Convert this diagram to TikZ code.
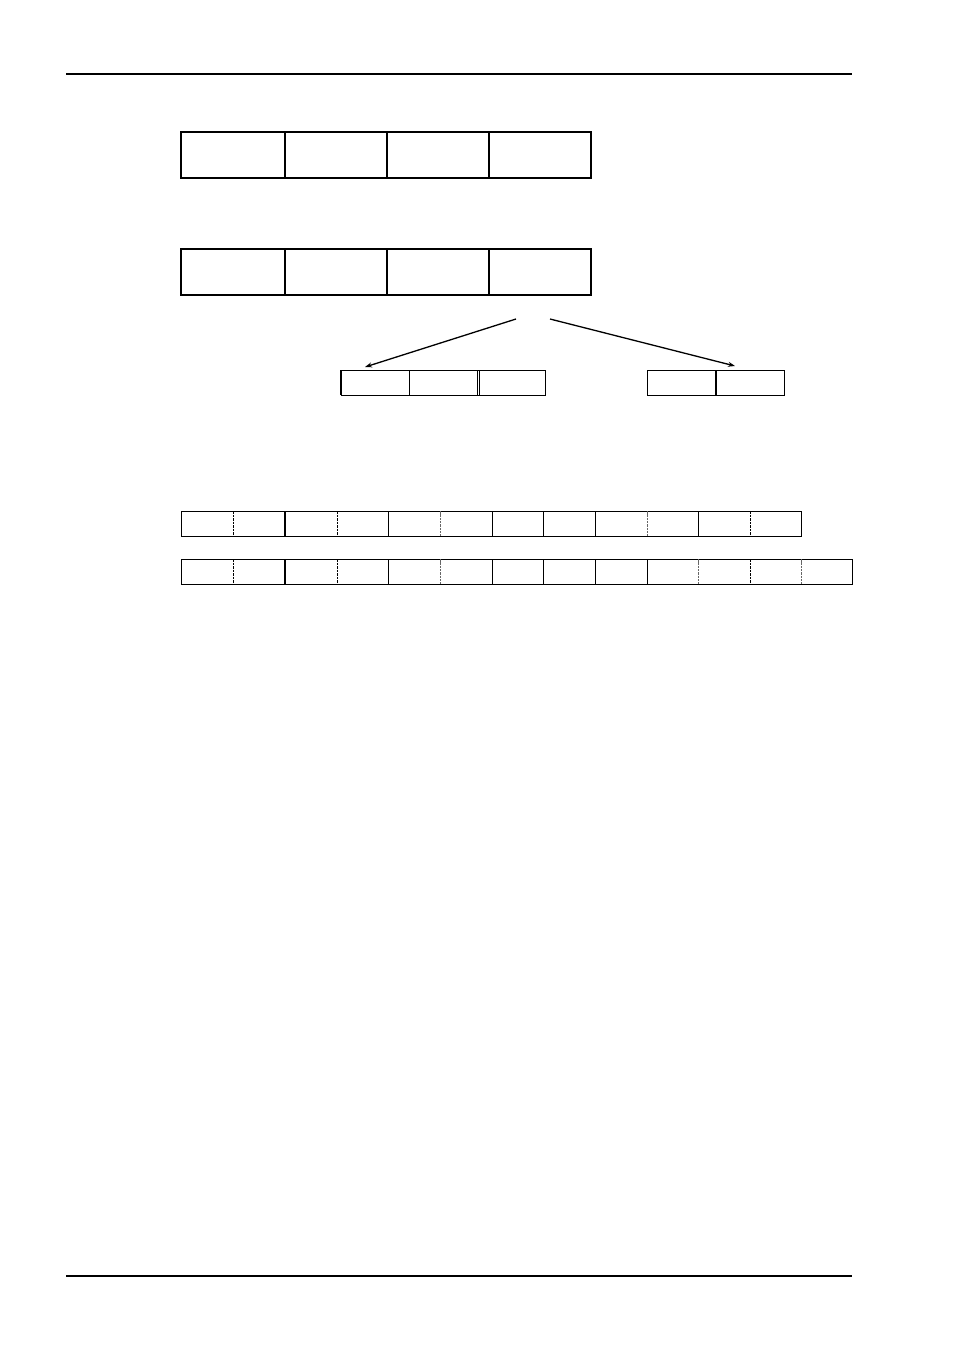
\documentclass[tikz,border=0pt]{standalone}
\usetikzlibrary{arrows.meta}
\begin{document}
\begin{tikzpicture}[x=1pt,y=-1pt,
  rule/.style={line width=2pt},
  box/.style={draw,line width=1pt,inner sep=0pt,outer sep=0pt,anchor=north west},
  div/.style={line width=1pt},
  ddiv/.style={line width=1pt,dash pattern=on 2.5pt off 1pt},
  gdiv/.style={line width=1pt,dash pattern=on 2.5pt off 0.8pt,black!60},
  arr/.style={line width=1.3pt,-{Stealth[length=7pt,width=5pt]}}]
\path[use as bounding box] (0,0) rectangle (955,1350);
% page rules
\coordinate (tl) at (66,74); \coordinate (tr) at (852,74);
\coordinate (bl) at (66,1276); \coordinate (br) at (852,1276);
\draw[rule] (tl) -- (tr);
\draw[rule] (bl) -- (br);
% row 1
\node[box,line width=1.2pt,minimum width=410pt,minimum height=46pt] (r1) at (181,132) {};
\foreach \x in {285,387,489} \draw[line width=1.2pt] (\x,132) -- (\x,178);
\draw[line width=2pt] (r1.south west) -- (r1.south east) -- (r1.north east);
% row 2
\node[box,line width=1.2pt,minimum width=410pt,minimum height=46pt] (r2) at (181,249) {};
\foreach \x in {285,387,489} \draw[line width=1.2pt] (\x,249) -- (\x,295);
\draw[line width=2pt] (r2.south east) -- (r2.north east);
% split arrows
\coordinate (s1) at (516,319); \coordinate (s2) at (550,319);
\node[box,minimum width=204pt,minimum height=25pt] (ga) at (341,370) {};
\draw[div] (409,370) -- (409,395);
\draw[line width=0.8pt] (477,370) -- (477,395);
\draw[line width=0.8pt] (479.5,370) -- (479.5,395);
\draw[line width=2pt] (ga.north west) -- (ga.south west);
\node[box,minimum width=137pt,minimum height=25pt] (gb) at (647,370) {};
\draw[line width=1.6pt] (716,370) -- (716,395);
\coordinate (ea) at (365,367); \coordinate (eb) at (735,366);
\draw[arr] (s1) -- (ea);
\draw[arr] (s2) -- (eb);
% row 3 (12 cells)
\node[box,minimum width=620pt,minimum height=25pt] (r3) at (181,511) {};
\foreach \x in {388,492,543,595,698} \draw[div] (\x,511) -- (\x,536);
\foreach \x in {233,337,750} \draw[ddiv] (\x,511) -- (\x,536);
\foreach \x in {440,647} \draw[gdiv] (\x,511) -- (\x,536);
\draw[line width=1.6pt] (285,511) -- (285,536);
% row 4 (13 cells)
\node[box,minimum width=671pt,minimum height=25pt] (r4) at (181,559) {};
\foreach \x in {388,492,543,595,647} \draw[div] (\x,559) -- (\x,584);
\foreach \x in {233,337,750} \draw[ddiv] (\x,559) -- (\x,584);
\foreach \x in {440,698,801} \draw[gdiv] (\x,559) -- (\x,584);
\draw[line width=1.6pt] (285,559) -- (285,584);
\end{tikzpicture}
\end{document}
